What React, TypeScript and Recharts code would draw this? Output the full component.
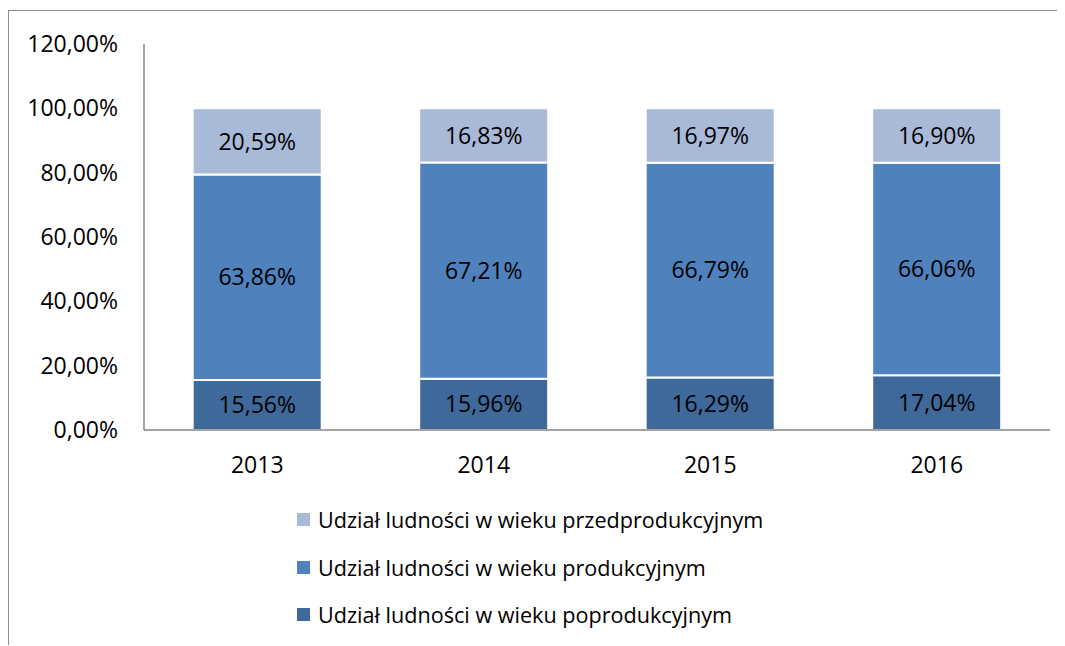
import React from 'react';
import { BarChart, Bar, XAxis, YAxis, Legend, LabelList } from 'recharts';

const years = ['2013', '2014', '2015', '2016'];
const przedprodukcyjny = [20.59, 16.83, 16.97, 16.9];
const produkcyjny = [63.86, 67.21, 66.79, 66.06];
const poprodukcyjny = [15.56, 15.96, 16.29, 17.04];
const yTicks = [0, 20, 40, 60, 80, 100, 120];

const series = [
  { key: 'przed', name: 'Udział ludności w wieku przedprodukcyjnym', color: '#A9B9D8' },
  { key: 'prod', name: 'Udział ludności w wieku produkcyjnym', color: '#4F81BD' },
  { key: 'popr', name: 'Udział ludności w wieku poprodukcyjnym', color: '#3F699B' },
];

const data = years.map((year, i) => ({
  year,
  popr: poprodukcyjny[i],
  prod: produkcyjny[i],
  przed: przedprodukcyjny[i],
}));

const FONT = '"Open Sans", sans-serif';
const pct = (v: number) => v.toFixed(2).replace('.', ',') + '%';

const LegendBox = () => (
  <div style={{ height: 144, paddingTop: 16, boxSizing: 'border-box', fontFamily: FONT, fontSize: 21.6, color: '#000' }}>
    {series.map((s) => (
      <div key={s.key} style={{ height: 47.5, display: 'flex', alignItems: 'center' }}>
        <span style={{ width: 13, height: 13, background: s.color, display: 'inline-block', marginRight: 8 }} />
        <span>{s.name}</span>
      </div>
    ))}
  </div>
);

export default function App() {
  return (
    <div
      style={{
        position: 'relative',
        top: 2,
        width: 1056,
        height: 636,
        borderTop: '1px solid #8c8c8c',
        borderLeft: '1px solid #8c8c8c',
        fontFamily: FONT,
      }}
    >
      <BarChart
        width={1055}
        height={635}
        data={data}
        margin={{ top: 33, right: 14, bottom: 22, left: 0 }}
        barCategoryGap="21.5%"
      >
        <XAxis
          dataKey="year"
          axisLine={{ stroke: '#868686', strokeWidth: 1.5 }}
          tickLine={false}
          tickSize={0}
          tickMargin={27}
          height={50}
          tick={{ fill: '#000', fontSize: 23, fontFamily: FONT }}
        />
        <YAxis
          domain={[0, 120]}
          ticks={yTicks}
          width={135}
          axisLine={{ stroke: '#868686', strokeWidth: 1.5 }}
          tickLine={false}
          tickSize={0}
          tickMargin={26}
          tickFormatter={pct}
          tick={{ fill: '#000', fontSize: 23, fontFamily: FONT }}
        />
        <Legend
          layout="vertical"
          align="center"
          verticalAlign="bottom"
          content={() => <LegendBox />}
          wrapperStyle={{ left: 288, width: 'auto' }}
        />
        <Bar dataKey="popr" name={series[2].name} stackId="a" fill={series[2].color} stroke="#fff" strokeWidth={2} isAnimationActive={false}>
          <LabelList dataKey="popr" position="center" formatter={pct} fill="#000" fontSize={23} fontFamily={FONT} />
        </Bar>
        <Bar dataKey="prod" name={series[1].name} stackId="a" fill={series[1].color} stroke="#fff" strokeWidth={2} isAnimationActive={false}>
          <LabelList dataKey="prod" position="center" formatter={pct} fill="#000" fontSize={23} fontFamily={FONT} />
        </Bar>
        <Bar dataKey="przed" name={series[0].name} stackId="a" fill={series[0].color} stroke="#fff" strokeWidth={2} isAnimationActive={false}>
          <LabelList dataKey="przed" position="center" formatter={pct} fill="#000" fontSize={23} fontFamily={FONT} />
        </Bar>
      </BarChart>
    </div>
  );
}
